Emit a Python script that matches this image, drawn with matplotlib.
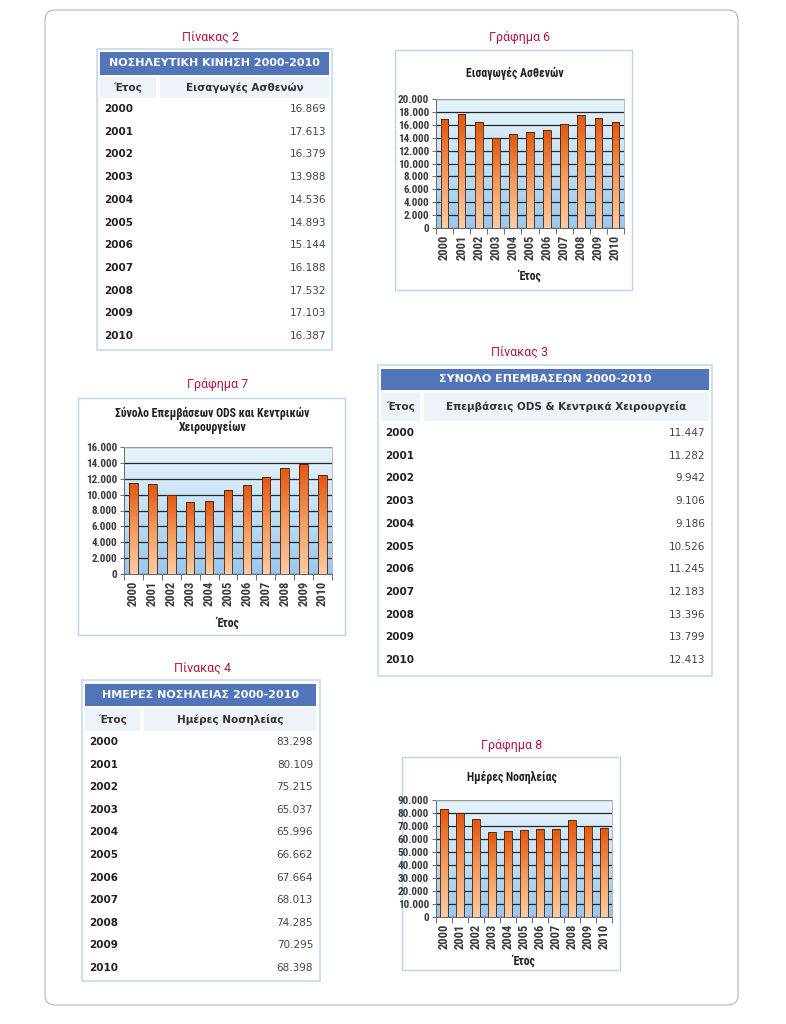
import numpy as np
import matplotlib.pyplot as plt
from matplotlib import font_manager
from matplotlib.patches import Rectangle, FancyBboxPatch
from matplotlib.colors import LinearSegmentedColormap
from matplotlib.ticker import FuncFormatter, FixedLocator

years = ['2000', '2001', '2002', '2003', '2004', '2005', '2006', '2007', '2008', '2009', '2010']
admissions = [16869, 17613, 16379, 13988, 14536, 14893, 15144, 16188, 17532, 17103, 16387]
operations = [11447, 11282, 9942, 9106, 9186, 10526, 11245, 12183, 13396, 13799, 12413]
hospital_days = [83298, 80109, 75215, 65037, 65996, 66662, 67664, 68013, 74285, 70295, 68398]

W, H = 786, 1024
CAPTION = '#b0154a'
HEAD = '#5274b9'
SUBHEAD = '#eef2f9'
BORDER = '#c4daf0'
CAP_FONT = ['Roboto', 'DejaVu Sans']

installed = {f.name for f in font_manager.fontManager.ttflist}
condensed = [n for n in ['DejaVu Sans Condensed', 'Liberation Sans Narrow', 'Roboto Condensed',
                         'Open Sans Condensed'] if n in installed]
if condensed:
    CHART_FONT = [condensed[0], 'DejaVu Sans']
    YTICK_SIZE, XTICK_SIZE = 8, 9
else:
    CHART_FONT = ['Liberation Sans', 'DejaVu Sans']
    YTICK_SIZE, XTICK_SIZE = 7, 7.5

bar_cmap = LinearSegmentedColormap.from_list('bar', ['#fdcba3', '#f59a5c', '#e4560f'])
bg_cmap = LinearSegmentedColormap.from_list('bg', ['#9ac7ec', '#c2e0f5', '#e8f4fc'])


def dotted(v, pos=None):
    return f'{v:,.0f}'.replace(',', '.')


fig = plt.figure(figsize=(W / 100, H / 100), dpi=100)
page = fig.add_axes([0, 0, 1, 1])
page.set_xlim(0, W)
page.set_ylim(H, 0)
page.axis('off')

page.add_patch(FancyBboxPatch((45, 10), 693, 995, boxstyle='round,pad=0,rounding_size=10',
                              fc='none', ec='#b4b4b4', lw=0.8))


def draw_table(box, head, sub, split, title, col2, vals, row0, step, year_x, val_x, caption, cap_xy):
    x0, y0, x1, y1 = box
    page.add_patch(Rectangle((x0, y0), x1 - x0, y1 - y0, fc='white', ec=BORDER, lw=1.2))
    hx0, hx1, hy0, hy1 = head
    page.add_patch(Rectangle((hx0, hy0), hx1 - hx0, hy1 - hy0, fc=HEAD, ec='none'))
    page.text((hx0 + hx1) / 2, (hy0 + hy1) / 2, title, color='white', fontsize=8,
              fontweight='bold', ha='center', va='center')
    sy0, sy1 = sub
    c1, c2 = split
    page.add_patch(Rectangle((hx0, sy0), c1 - hx0, sy1 - sy0, fc=SUBHEAD, ec='none'))
    page.add_patch(Rectangle((c2, sy0), hx1 - c2, sy1 - sy0, fc=SUBHEAD, ec='none'))
    page.text((hx0 + c1) / 2, (sy0 + sy1) / 2, 'Έτος', color='#333333', fontsize=7.5,
              fontweight='bold', ha='center', va='center')
    page.text((c2 + hx1) / 2, (sy0 + sy1) / 2, col2, color='#333333', fontsize=7.5,
              fontweight='bold', ha='center', va='center')
    for i, (y, v) in enumerate(zip(years, vals)):
        yy = row0 + i * step
        page.text(year_x, yy, y, color='#222222', fontsize=7.5, fontweight='bold',
                  ha='left', va='center')
        page.text(val_x, yy, dotted(v), color='#444444', fontsize=7.5,
                  ha='right', va='center')
    page.text(cap_xy[0], cap_xy[1], caption, color=CAPTION, fontsize=9,
              family=CAP_FONT, ha='center', va='center')


def draw_chart(frame, plot, vals, ymax, ystep, title, title_y, title_size, xlabel_y,
               caption, cap_xy):
    fx0, fy0, fx1, fy1 = frame
    page.add_patch(Rectangle((fx0, fy0), fx1 - fx0, fy1 - fy0, fc='white', ec='#b8d3ee', lw=1.0))
    page.text(cap_xy[0], cap_xy[1], caption, color=CAPTION, fontsize=9,
              family=CAP_FONT, ha='center', va='center')
    for k, line in enumerate(title):
        page.text((fx0 + fx1) / 2 + 1, title_y + k * 14, line, color='#1f1f1f',
                  fontsize=title_size, fontweight='bold', family=CHART_FONT,
                  ha='center', va='center')
    l, t, r, b = plot
    ax = fig.add_axes([l / W, 1 - b / H, (r - l) / W, (b - t) / H])
    n = len(vals)
    x = np.arange(n)
    ax.imshow(np.linspace(0, 1, 256).reshape(-1, 1), cmap=bg_cmap, origin='lower',
              extent=[-0.5, n - 0.5, 0, ymax], aspect='auto', zorder=0)
    bars = ax.bar(x, vals, width=0.45, fc='none', ec='#3a2410', lw=0.6, zorder=3)
    grad = np.linspace(0, 1, 128).reshape(-1, 1)
    for bar in bars:
        im = ax.imshow(grad, cmap=bar_cmap, origin='lower',
                       extent=[bar.get_x(), bar.get_x() + bar.get_width(), 0, bar.get_height()],
                       aspect='auto', zorder=2)
        im.set_clip_path(bar)
    ax.set_xlim(-0.5, n - 0.5)
    ax.set_ylim(0, ymax)
    ax.set_yticks(np.arange(0, ymax + 1, ystep))
    ax.yaxis.set_major_formatter(FuncFormatter(dotted))
    ax.yaxis.grid(True, color='#262626', lw=0.9)
    ax.set_axisbelow(True)
    ax.set_xticks(x)
    ax.set_xticklabels(years, rotation=90)
    ax.xaxis.set_minor_locator(FixedLocator(np.arange(-0.5, n, 1)))
    ax.tick_params(axis='x', which='major', length=0, pad=5)
    ax.tick_params(axis='x', which='minor', length=4, width=0.6, color='#555555')
    ax.tick_params(axis='y', length=3, width=0.6, color='#555555', pad=2)
    for lab in ax.get_xticklabels():
        lab.set_family(CHART_FONT)
        lab.set_fontsize(XTICK_SIZE)
        lab.set_fontweight('bold')
        lab.set_color('#3a3a44')
    for lab in ax.get_yticklabels():
        lab.set_family(CHART_FONT)
        lab.set_fontsize(YTICK_SIZE)
        lab.set_fontweight('bold')
        lab.set_color('#3a3a44')
    for s in ['left', 'bottom']:
        ax.spines[s].set_color('#666666')
        ax.spines[s].set_linewidth(0.7)
    for s in ['top', 'right']:
        ax.spines[s].set_color('#b0b0b0')
        ax.spines[s].set_linewidth(0.6)
    page.text((l + r) / 2, xlabel_y, 'Έτος', color='#1f1f1f', fontsize=8.5,
              fontweight='bold', family=CHART_FONT, ha='center', va='center')
    return ax


draw_table((97, 49, 332, 350), (100, 329, 52, 75), (77, 98), (156, 160),
           'ΝΟΣΗΛΕΥΤΙΚΗ ΚΙΝΗΣΗ 2000-2010', 'Εισαγωγές Ασθενών', admissions,
           109, 22.7, 104, 326, 'Πίνακας 2', (210, 37))

draw_table((378, 365, 712, 676), (381, 709, 369, 390), (393, 421), (420, 424),
           'ΣΥΝΟΛΟ ΕΠΕΜΒΑΣΕΩΝ 2000-2010', 'Επεμβάσεις ODS & Κεντρικά Χειρουργεία', operations,
           433, 22.7, 385, 705, 'Πίνακας 3', (520, 352))

draw_table((82, 680, 320, 981), (85, 316, 684, 706), (708, 731), (140, 144),
           'ΗΜΕΡΕΣ ΝΟΣΗΛΕΙΑΣ 2000-2010', 'Ημέρες Νοσηλείας', hospital_days,
           742, 22.6, 89, 313, 'Πίνακας 4', (203, 668))

draw_chart((395, 50, 632, 290), (436, 99, 624, 228), admissions, 20000, 2000,
           ['Εισαγωγές Ασθενών'], 73, 8.5, 276, 'Γράφημα 6', (520, 37))

draw_chart((78, 398, 345, 635), (124, 447, 332, 574), operations, 16000, 2000,
           ['Σύνολο Επεμβάσεων ODS και Κεντρικών', 'Χειρουργείων'], 413, 8.5, 623,
           'Γράφημα 7', (218, 384))

draw_chart((402, 757, 620, 970), (436, 800, 612, 917), hospital_days, 90000, 10000,
           ['Ημέρες Νοσηλείας'], 777, 8.5, 961, 'Γράφημα 8', (512, 745))

fig.savefig('out.png', dpi=100)
